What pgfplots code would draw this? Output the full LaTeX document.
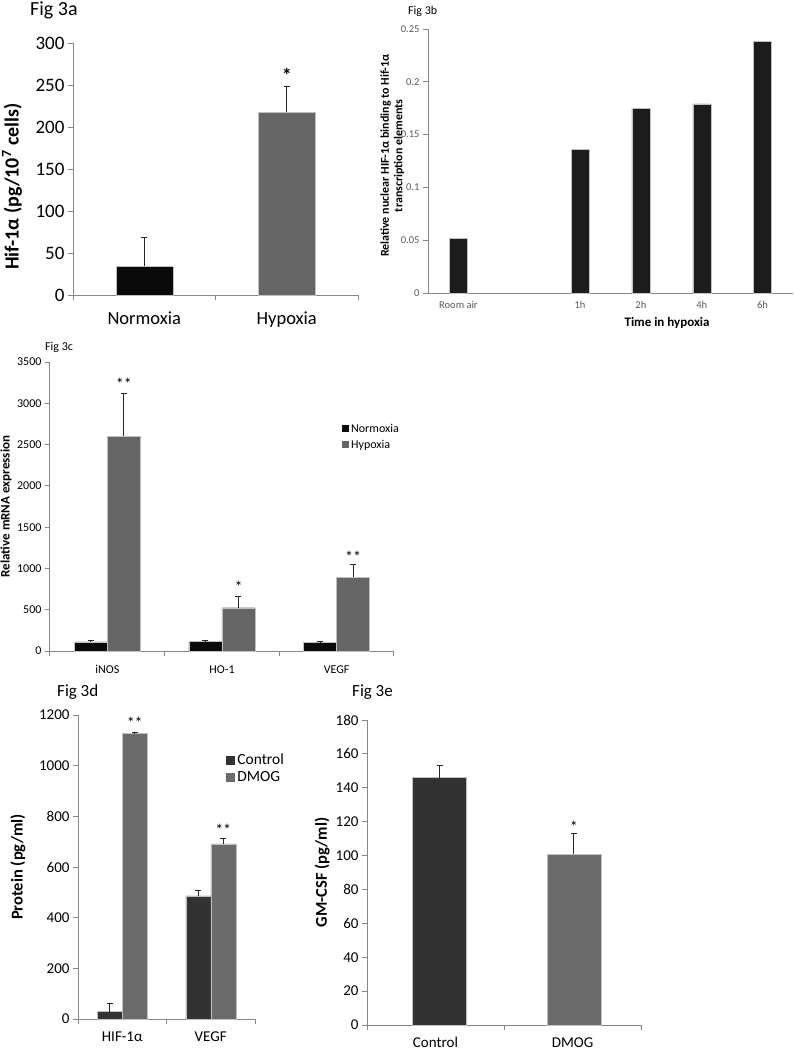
\documentclass[border=0pt]{standalone}
\usepackage{fontspec}
\setmainfont{Carlito}
\usepackage{pgfplots}
\pgfplotsset{compat=1.18}
\definecolor{axgray}{HTML}{868686}
\definecolor{txtgray}{HTML}{595959}
\definecolor{barblack}{HTML}{0A0A0A}
\definecolor{barb}{HTML}{1C1C1C}
\definecolor{bargray}{HTML}{666666}
\definecolor{bardark}{HTML}{323232}
\definecolor{bargrayd}{HTML}{6B6B6B}
\definecolor{edgegray}{HTML}{C0C0C0}
\newcommand{\fs}[1]{\fontsize{#1}{#1}\selectfont}
\pgfplotsset{
  xl/.style={
    scale only axis,
    anchor=south west,
    axis lines*=left,
    axis line style={-, axgray, line width=1pt},
    tick style={axgray, line width=1pt},
    tick align=outside,
    major tick length=5pt,
    minor tick length=5pt,
    major x tick style={draw=none},
    /pgf/number format/assume math mode=true,
    /pgf/number format/1000 sep={},
    enlarge x limits=false,
    clip=false,
    ybar, bar shift=0pt,
  },
  eb/.style={error bars/.cd, y dir=plus, y explicit,
    error bar style={black!85, line width=0.8pt},
    error mark options={black!85, line width=0.8pt, mark size=3pt, rotate=90}},
}
\begin{document}
\begin{tikzpicture}
\path[use as bounding box] (0,0) rectangle (794pt,-1050pt);
% ---------- Fig 3a
\node[anchor=base west, font=\fs{20}, inner sep=0pt] at (30pt,-15pt) {Fig 3a};
\begin{axis}[xl, at={(73pt,-295pt)}, width=285pt, height=252pt,
  xmin=-0.5, xmax=1.5, ymin=0, ymax=300, ytick={0,50,...,300},
  xtick={0,1}, xticklabels={Normoxia,Hypoxia}, minor xtick={-0.5,0.5,1.5},
  yticklabel style={font=\fs{19}}, xticklabel style={font=\fs{18.5}, yshift=-8pt},
  ylabel={Hif-1α (pg/10\textsuperscript{7} cells)},
  ylabel style={font=\bfseries\fs{20}, at={(axis description cs:-0.214,0.43)}, anchor=center},
]
\addplot[fill=barblack, draw=edgegray, bar width=57pt, eb] coordinates {(0,34.5) +- (0,34.5)};
\addplot[fill=bargray, draw=edgegray, bar width=57pt, eb] coordinates {(1,218) +- (0,30)};
\node[font=\bfseries\fs{20}] at (axis cs:1,262) {*};
\end{axis}
% ---------- Fig 3b
\node[anchor=base west, font=\fs{12}, inner sep=0pt] at (408pt,-14pt) {Fig 3b};
\begin{axis}[xl, at={(428pt,-293pt)}, width=365pt, height=264pt,
  xmin=-0.5, xmax=5.5, ymin=0, ymax=0.25, ytick={0,0.05,0.1,0.15,0.2,0.25},
  yticklabel style={/pgf/number format/fixed, /pgf/number format/precision=2},
  xtick={0,2,3,4,5}, xticklabels={Room air,1h,2h,4h,6h},
  ticklabel style={font=\fs{10.5}, text=txtgray},
  ylabel={Relative nuclear HIF-1α binding to Hif-1α\\transcription elements},
  ylabel style={font=\bfseries\fontsize{12}{13.5}\selectfont, align=center, at={(axis description cs:-0.098,0.52)}, anchor=center},
  xlabel={Time in hypoxia},
  xlabel style={font=\bfseries\fs{13}, at={(axis description cs:0.655,-0.113)}, anchor=center},
]
\addplot[fill=barb, draw=edgegray, bar width=18pt] coordinates {(0,0.052) (2,0.136) (3,0.175) (4,0.179) (5,0.238)};
\end{axis}
% ---------- Fig 3c
\node[anchor=base west, font=\fs{12}, inner sep=0pt] at (45pt,-350pt) {Fig 3c};
\begin{axis}[xl, at={(50pt,-651pt)}, width=344pt, height=289pt, ybar=0pt,
  xmin=-0.5, xmax=2.5, ymin=0, ymax=3500, ytick={0,500,...,3500},
  xtick={0,1,2}, xticklabels={iNOS,HO-1,VEGF}, minor xtick={-0.5,0.5,1.5,2.5},
  ticklabel style={font=\fs{12}}, xticklabel style={yshift=-6pt},
  ylabel={Relative mRNA expression},
  ylabel style={font=\bfseries\fs{13}, at={(axis description cs:-0.128,0.5)}, anchor=center},
  legend style={at={(axis description cs:0.84,0.8)}, anchor=north west, draw=none, fill=none, font=\fs{12}, row sep=2pt},
  legend cell align=left,
  legend image code/.code={\draw[#1, draw=none] (0pt,-3.5pt) rectangle (7pt,3.5pt);},
]
\addplot[fill=barblack, draw=edgegray, bar width=33pt, eb] coordinates {(0,110) +- (0,20) (1,115) +- (0,10) (2,105) +- (0,10)};
\addplot[fill=bargray, draw=edgegray, bar width=33pt, eb] coordinates {(0,2603) +- (0,517) (1,524) +- (0,142) (2,896) +- (0,149)};
\legend{Normoxia,Hypoxia}
\node[font=\fs{16}] at (axis cs:0.144,3230) {**};
\node[font=\fs{16}] at (axis cs:1.144,775) {*};
\node[font=\fs{16}] at (axis cs:2.144,1140) {**};
\end{axis}
% ---------- Fig 3d
\node[anchor=base west, font=\fs{17}, inner sep=0pt] at (57pt,-696pt) {Fig 3d};
\begin{axis}[xl, at={(78pt,-1019pt)}, width=177pt, height=304pt, ybar=0pt,
  xmin=-0.5, xmax=1.5, ymin=0, ymax=1200, ytick={0,200,...,1200},
  xtick={0,1}, xticklabels={HIF-1α,VEGF}, minor xtick={-0.5,0.5,1.5},
  ticklabel style={font=\fs{15}}, xticklabel style={yshift=-4pt},
  ylabel={Protein (pg/ml)},
  ylabel style={font=\bfseries\fs{16.5}, at={(axis description cs:-0.339,0.5)}, anchor=center},
  legend style={at={(axis description cs:0.82,0.885)}, anchor=north west, draw=none, fill=none, font=\fs{15.5}, row sep=1pt},
  legend cell align=left,
  legend image code/.code={\draw[#1, draw=none] (0pt,-4.5pt) rectangle (9pt,4.5pt);},
]
\addplot[fill=bardark, draw=edgegray, bar width=25pt, eb] coordinates {(0,29) +- (0,33) (1,486) +- (0,23)};
\addplot[fill=bargrayd, draw=edgegray, bar width=25pt, eb] coordinates {(0,1128) +- (0,2) (1,691) +- (0,20)};
\legend{Control,DMOG}
\node[font=\fs{16}] at (axis cs:0.141,1170) {**};
\node[font=\fs{16}] at (axis cs:1.141,745) {**};
\end{axis}
% ---------- Fig 3e
\node[anchor=base west, font=\fs{17}, inner sep=0pt] at (352pt,-696pt) {Fig 3e};
\begin{axis}[xl, at={(367pt,-1025pt)}, width=274pt, height=305pt,
  xmin=-0.5, xmax=1.5, ymin=0, ymax=180, ytick={0,20,...,180},
  xtick={0,1}, xticklabels={Control,DMOG}, minor xtick={-0.5,0.5,1.5},
  ticklabel style={font=\fs{15}}, xticklabel style={yshift=-4pt},
  ylabel={GM-CSF (pg/ml)},
  ylabel style={font=\bfseries\fs{16.5}, at={(axis description cs:-0.164,0.5)}, anchor=center},
]
\addplot[fill=bardark, draw=edgegray, bar width=54pt, eb] coordinates {(0.03,146) +- (0,7)};
\addplot[fill=bargrayd, draw=edgegray, bar width=54pt, eb] coordinates {(1.01,101) +- (0,12)};
\node[font=\fs{16}] at (axis cs:1.01,117) {*};
\end{axis}
\end{tikzpicture}
\end{document}
